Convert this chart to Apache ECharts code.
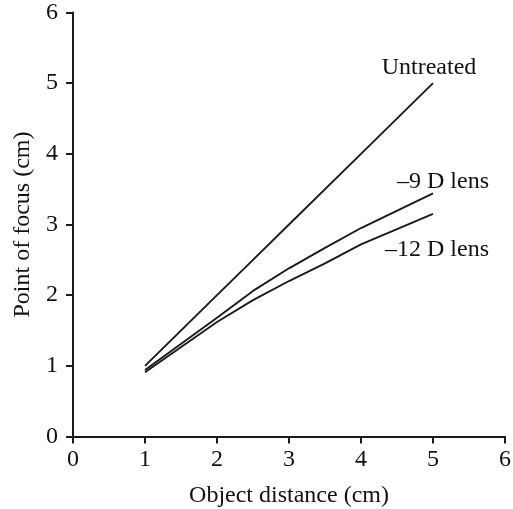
<!DOCTYPE html>
<html>
<head>
<meta charset="utf-8">
<script src="https://cdn.jsdelivr.net/npm/echarts@6/dist/echarts.min.js"></script>
<style>html,body{margin:0;padding:0;background:#fff}#c{width:513px;height:509px}</style>
</head>
<body>
<div id="c"></div>
<script>
var seriesNames = ['Untreated', '–9 D lens', '–12 D lens'];
var untreatedX = [1, 2, 2.5, 3, 4, 5];
var untreatedY = [1, 2, 2.5, 3, 4, 5];
var lens9X = [1, 2, 2.5, 3, 3.5, 4, 5];
var lens9Y = [0.94, 1.68, 2.06, 2.38, 2.67, 2.95, 3.44];
var lens12X = [1, 2, 2.5, 3, 3.5, 4, 5];
var lens12Y = [0.91, 1.62, 1.93, 2.2, 2.45, 2.72, 3.15];
var xTicks = [0, 1, 2, 3, 4, 5, 6];
var yTicks = [0, 1, 2, 3, 4, 5, 6];

var FONT = 'Liberation Serif';
var FS = 24;
var labelOffsets = [[-4, -15], [10, -12], [4, 36]];

function build(xs, ys, idx) {
  return xs.map(function (x, i) {
    var item = { value: [x, ys[i]] };
    if (i === xs.length - 1) {
      item.label = {
        show: true,
        position: 'inside',
        offset: labelOffsets[idx],
        formatter: seriesNames[idx],
        fontFamily: FONT,
        fontSize: FS,
        color: '#111'
      };
    }
    return item;
  });
}

function lineSeries(xs, ys, idx) {
  return {
    type: 'line',
    name: seriesNames[idx],
    data: build(xs, ys, idx),
    symbol: 'circle',
    symbolSize: 0,
    showSymbol: true,
    lineStyle: { color: '#1a1a1a', width: 1.9 },
    itemStyle: { color: '#1a1a1a' },
    label: { show: false },
    emphasis: { disabled: true }
  };
}

var chart = echarts.init(document.getElementById('c'), null, { renderer: 'canvas' });
chart.setOption({
  animation: false,
  backgroundColor: '#fff',
  grid: { left: 73, right: 8, top: 12.5, bottom: 72.5, containLabel: false, outerBoundsMode: 'none' },
  xAxis: {
    type: 'value',
    min: xTicks[0], max: xTicks[xTicks.length - 1], interval: 1,
    name: 'Object distance (cm)',
    nameLocation: 'middle', nameGap: 47,
    nameTextStyle: { fontFamily: FONT, fontSize: FS, color: '#111' },
    axisLine: { show: true, lineStyle: { color: '#1a1a1a', width: 2 } },
    axisTick: { show: true, inside: false, length: 7, lineStyle: { color: '#1a1a1a', width: 2 } },
    axisLabel: { margin: 11, fontFamily: FONT, fontSize: FS, color: '#111',
      formatter: function (v) { return xTicks.indexOf(v) >= 0 ? String(v) : ''; } },
    splitLine: { show: false }
  },
  yAxis: {
    type: 'value',
    min: yTicks[0], max: yTicks[yTicks.length - 1], interval: 1,
    name: 'Point of focus (cm)',
    nameLocation: 'middle', nameGap: 38,
    nameTextStyle: { fontFamily: FONT, fontSize: FS, color: '#111' },
    axisLine: { show: true, lineStyle: { color: '#1a1a1a', width: 2 } },
    axisTick: { show: true, inside: false, length: 7, lineStyle: { color: '#1a1a1a', width: 2 } },
    axisLabel: { margin: 15, fontFamily: FONT, fontSize: FS, color: '#111',
      formatter: function (v) { return yTicks.indexOf(v) >= 0 ? String(v) : ''; } },
    splitLine: { show: false }
  },
  series: [
    lineSeries(untreatedX, untreatedY, 0),
    lineSeries(lens9X, lens9Y, 1),
    lineSeries(lens12X, lens12Y, 2)
  ]
});
</script>
</body>
</html>
